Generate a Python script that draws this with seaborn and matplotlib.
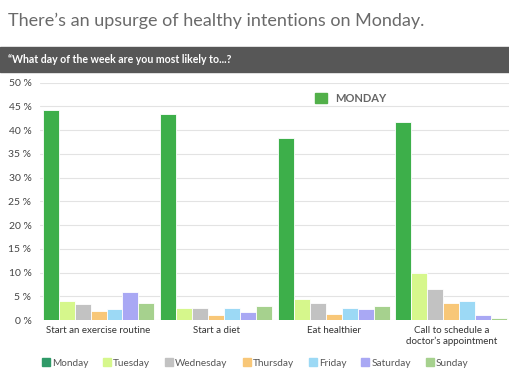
import pandas as pd
import numpy as np
import matplotlib
matplotlib.use('Agg')
import matplotlib.pyplot as plt
from matplotlib.patches import Patch, Rectangle
import seaborn as sns

# Survey data (percent)
activities = ['Start an exercise routine', 'Start a diet', 'Eat healthier',
              "Call to schedule a\ndoctor\u2019s appointment"]
days = ['Monday', 'Tuesday', 'Wednesday', 'Thursday', 'Friday', 'Saturday', 'Sunday']

monday = [44.2, 43.3, 38.3, 41.7]
tuesday = [4.0, 2.6, 4.4, 9.9]
wednesday = [3.3, 2.5, 3.5, 6.5]
thursday = [1.9, 1.0, 1.3, 3.6]
friday = [2.3, 2.5, 2.5, 4.0]
saturday = [6.0, 1.8, 2.3, 1.1]
sunday = [3.7, 2.9, 3.0, 0.5]

bar_colors = ['#3daf4a', '#d6f78c', '#c2c2c2', '#f8c778', '#9cd9f5', '#a9a8f4', '#a6d18e']
legend_colors = ['#2f9a68'] + bar_colors[1:]

values = [monday, tuesday, wednesday, thursday, friday, saturday, sunday]
rows = []
for day, vals in zip(days, values):
    for act, v in zip(activities, vals):
        rows.append({'activity': act, 'day': day, 'pct': v})
df = pd.DataFrame(rows)

sns.set_style('white')
plt.rcParams['font.family'] = ['Lato', 'DejaVu Sans']

fig = plt.figure(figsize=(5.1, 3.82), dpi=100)
ax = fig.add_axes([0.078, 0.162, 0.922, 0.622])

sns.barplot(data=df, x='activity', y='pct', hue='day', order=activities,
            hue_order=days, palette=bar_colors, width=0.95, ax=ax, saturation=1,
            edgecolor='white', linewidth=0.6, legend=False, errorbar=None)

ax.set_ylim(0, 50)
ax.set_yticks(np.arange(0, 51, 5))
ax.set_yticklabels([f'{t} %' for t in range(0, 51, 5)], fontsize=7.5, color='#444444')
ax.tick_params(axis='x', labelsize=7, colors='#333333', length=0, pad=4)
ax.tick_params(axis='y', length=0, pad=6)
ax.set_xlabel('')
ax.set_ylabel('')
ax.yaxis.grid(True, color='#e3e3e3', linewidth=0.8)
ax.set_axisbelow(True)
for s in ax.spines.values():
    s.set_visible(False)

# title and question band
fig.text(0.016, 0.945, 'There\u2019s an upsurge of healthy intentions on Monday.',
         fontsize=13, color='#6a6a6a', va='center')
fig.patches.append(Rectangle((0, 0.812), 1, 0.066, transform=fig.transFigure,
                             color='#575757', zorder=0))
fig.text(0.016, 0.845, '\u201cWhat day of the week are you most likely to...?',
         fontsize=7.6, color='white', fontweight='bold', va='center')

# MONDAY call-out inside the plot
ax.legend(handles=[Patch(color='#52b04a')], labels=['MONDAY'], loc='upper left',
          bbox_to_anchor=(0.565, 1.0), frameon=False, handlelength=1.0,
          handleheight=1.0, prop={'size': 8, 'weight': 'bold'},
          labelcolor='#666666')

# bottom legend
handles = [Patch(color=c) for c in legend_colors]
fig.legend(handles=handles, labels=days, loc='center', bbox_to_anchor=(0.5, 0.05),
           ncol=7, frameon=False, handlelength=0.8, handleheight=0.8,
           handletextpad=0.2, columnspacing=1.5, fontsize=7.2, labelcolor='#555555')

fig.savefig('out.png', dpi=100)
